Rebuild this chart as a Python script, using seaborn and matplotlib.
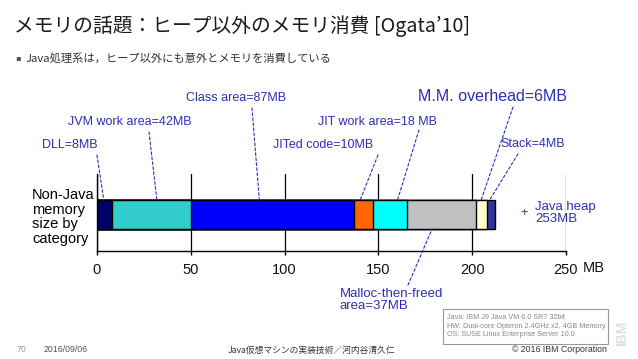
import numpy as np
import pandas as pd
import matplotlib
matplotlib.use("Agg")
import matplotlib.pyplot as plt
import seaborn as sns

# ---- data ----
categories = ["DLL", "JVM work area", "Class area", "JITed code", "JIT work area",
              "Malloc-then-freed area", "M.M. overhead", "Stack"]
sizes_mb = [8, 42, 87, 10, 18, 37, 6, 4]
java_heap_mb = 253
xticks = [0, 50, 100, 150, 200, 250]
seg_colors = ["#000066", "#33CCCC", "#0000FF", "#FF6600", "#00FFFF",
              "#C0C0C0", "#FFFFCC", "#333399"]
labels = ["DLL=8MB", "JVM work area=42MB", "Class area=87MB", "JITed code=10MB",
          "JIT work area=18 MB", "Malloc-then-freed\narea=37MB", "M.M. overhead=6MB",
          "Stack=4MB"]

sns.set_theme(style="white")
plt.rcParams["font.family"] = ["Liberation Sans", "DejaVu Sans"]

W, H = 638, 359
fig = plt.figure(figsize=(W / 100, H / 100), dpi=100)
fig.patch.set_facecolor("white")

def px(x, y):
    return (x / W, 1 - y / H)

ax_l, ax_r, ax_t, ax_b = 97, 566, 174, 251
ax = fig.add_axes([ax_l / W, 1 - ax_b / H, (ax_r - ax_l) / W, (ax_b - ax_t) / H])

df = pd.DataFrame({"cat": categories, "size": sizes_mb, "color": seg_colors})
df["cum"] = df["size"].cumsum()
df["start"] = df["cum"] - df["size"]
df["row"] = "mem"

# stacked bar: draw cumulative widths, largest first
for i in range(len(df) - 1, -1, -1):
    sub = df.iloc[[i]]
    sns.barplot(data=sub, x="cum", y="row", orient="h", color=df["color"].iloc[i],
                saturation=1, width=1.0, edgecolor="black", linewidth=1.0,
                ax=ax, zorder=3)

ax.set_xlim(0, 250)
ax.set_ylim(1.29, -1.43)
ax.set_xticks(xticks)
ax.set_xticklabels([str(t) for t in xticks], fontsize=10.5, color="#111111")
ax.set_yticks([])
ax.set_xlabel("")
ax.set_ylabel("")
ax.grid(axis="x", color="black", linewidth=0.9)
ax.grid(axis="y", visible=False)
ax.set_axisbelow(True)
for s in ["top", "right"]:
    ax.spines[s].set_visible(False)
for s in ["left", "bottom"]:
    ax.spines[s].set_visible(True)
    ax.spines[s].set_color("black")
    ax.spines[s].set_linewidth(1.0)
ax.tick_params(axis="x", bottom=True, length=3, width=1, color="black", pad=6)
ax.set_facecolor("white")

fig.text(*px(583, 268), "MB", fontsize=10.5, ha="left", va="center", color="#111111")

# leader lines & labels
blue = "#2E2EB4"
label_pos = [(70, 145), (130, 122), (236, 98), (323, 145), (378, 122),
             (340, 300), (492, 97), (533, 144)]
line_start = [(97, 155), (149, 132), (252, 108), (378, 155), (419, 130),
              (408, 285), (513, 107), (518, 154)]
frac = [0.45, 0.57, 0.42, 0.32, 0.73, 0.37, 0.45, 0.3]
for i, lab in enumerate(labels):
    xd = df["start"].iloc[i] + frac[i] * df["size"].iloc[i]
    yd = 0.5 if i == 5 else -0.5
    ax.annotate("", xy=(xd, yd), xycoords="data",
                xytext=px(*line_start[i]), textcoords="figure fraction",
                arrowprops=dict(arrowstyle="-", linestyle=(0, (2.5, 2)), color=blue,
                                lw=0.8, shrinkA=0, shrinkB=0),
                annotation_clip=False)
    if i == 5:
        fig.text(*px(*label_pos[i]), lab, fontsize=9.5, color=blue, ha="left",
                 va="center", linespacing=1.1)
    elif i == 6:
        fig.text(*px(*label_pos[i]), lab, fontsize=11.5, color=blue, ha="center", va="center")
    else:
        fig.text(*px(*label_pos[i]), lab, fontsize=9, color=blue, ha="center", va="center")

fig.text(*px(524, 213), "+", fontsize=9, color=blue, ha="center", va="center")
fig.text(*px(535, 213), f"Java heap\n{java_heap_mb}MB", fontsize=9.5, color=blue,
         ha="left", va="center", linespacing=1.0)
fig.text(*px(32, 217), "Non-Java\nmemory\nsize by\ncategory", fontsize=10.5,
         color="black", ha="left", va="center", linespacing=1.05)

# title & subtitle
jp = ["Noto Sans CJK JP", "DejaVu Sans"]
fig.text(*px(14, 26), "メモリの話題：ヒープ以外のメモリ消費 [Ogata’10]", fontsize=14.2,
         family=jp, color="#1a1a1a", ha="left", va="center")
fig.text(*px(15, 58), "▪", fontsize=6, family=["DejaVu Sans"], color="#555555",
         ha="left", va="center")
fig.text(*px(26, 58), "Java処理系は，ヒープ以外にも意外とメモリを消費している",
         fontsize=8.1, family=jp, color="#333333", ha="left", va="center")

# info box
box = plt.Rectangle(px(443, 344), (608 - 443) / W, (344 - 309) / H,
                    transform=fig.transFigure, fill=False, edgecolor="#999999", lw=0.8)
fig.add_artist(box)
fig.text(*px(447, 326), "Java: IBM J9 Java VM 6.0 SR7 32bit\n"
         "HW: Dual-core Opteron 2.4GHz x2, 4GB Memory\n"
         "OS: SUSE Linux Enterprise Server 10.0",
         fontsize=5.2, color="#888888", ha="left", va="center", linespacing=1.35)

# footer
fig.text(*px(17, 350), "70", fontsize=6.3, color="#999999", ha="left", va="center")
fig.text(*px(44, 350), "2016/09/06", fontsize=6.3, color="#555555", ha="left", va="center")
fig.text(*px(312, 350), "Java仮想マシンの実装技術／河内谷清久仁", fontsize=6.3, family=jp,
         color="#333333", ha="center", va="center")
fig.text(*px(607, 350), "© 2016 IBM Corporation", fontsize=6.3, color="#333333",
         ha="right", va="center")
fig.text(*px(622, 333), "IBM", fontsize=10, fontweight="bold", color="#e0e0e0",
         ha="center", va="center", rotation=90)

fig.savefig("out.png", dpi=100, facecolor="white")
